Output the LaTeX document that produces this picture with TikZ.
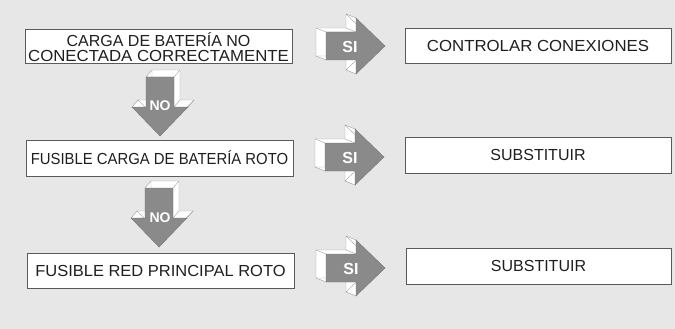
\documentclass[tikz,border=0pt]{standalone}
\usepackage{fontspec}
\setmainfont{Liberation Sans}
\definecolor{bgcol}{HTML}{E7E7E7}
\definecolor{arrowgray}{HTML}{8A8A8A}
\definecolor{edgegray}{HTML}{A0A0A0}
\definecolor{boxline}{HTML}{5A5A5A}
\tikzset{
  textbox/.style={draw=boxline, line width=0.7pt, fill=white, rectangle, inner sep=0pt,
    font=\fontsize{16}{15}\selectfont, text=black!88, align=center},
  sitext/.style={font=\fontsize{16}{16}\selectfont\bfseries, text=white, inner sep=0pt},
  notext/.style={font=\fontsize{14}{14}\selectfont\bfseries, text=white, inner sep=0pt},
  pics/blockarrow/.style n args={2}{code={
    \foreach \t in {0,...,20}{
      \fill[white, shift={({\t/20*(#1)},{\t/20*(#2)})}]
        (0,-14) -- (30,-14) -- (30,-28) -- (59,0) -- (30,28) -- (30,14) -- (0,14) -- cycle;
    }
    \draw[edgegray, line width=0.4pt, shift={(#1,#2)}]
        (0,-14) -- (30,-14) -- (30,-28) -- (59,0) -- (30,28) -- (30,14) -- (0,14) -- cycle;
    \foreach \p in {{0,-14},{30,-14},{30,-28},{59,0},{30,28},{30,14},{0,14}}{
      \draw[edgegray, line width=0.4pt] (\p) -- ++(#1,#2);
    }
    \fill[arrowgray]
        (0,-14) -- (30,-14) -- (30,-28) -- (59,0) -- (30,28) -- (30,14) -- (0,14) -- cycle;
    \draw[arrowgray!85!black, line width=0.4pt]
        (0,-14) -- (30,-14) -- (30,-28) -- (59,0) -- (30,28) -- (30,14) -- (0,14) -- cycle;
  }}
}
\begin{document}
\begin{tikzpicture}[x=1pt, y=-1pt]
\fill[bgcol] (0,0) rectangle (675,329);
\useasboundingbox (0,0) rectangle (675,329);

% left boxes
\node[textbox, minimum width=267pt, minimum height=34pt] (q1) at (158.5,46)
  {};
\node[font=\fontsize{16}{15}\selectfont, text=black!88, align=center, inner sep=0pt] (q1t) at (158.5,47.5)
  {CARGA DE BATERÍA NO\\\scalebox{1.05}[1]{CONECTADA CORRECTAMENTE}};
\node[textbox, minimum width=267pt, minimum height=36pt] (q2) at (159.5,158)
  {\scalebox{0.93}[1]{FUSIBLE CARGA DE BATERÍA ROTO}};
\node[textbox, minimum width=267pt, minimum height=35pt] (q3) at (160.5,270.5)
  {\scalebox{1.03}[1]{FUSIBLE RED PRINCIPAL ROTO}};

% right boxes
\node[textbox, minimum width=266pt, minimum height=35pt] (a1) at (538,45.5)
  {\scalebox{1.05}[1]{CONTROLAR CONEXIONES}};
\node[textbox, minimum width=266pt, minimum height=36pt] (a2) at (538,155)
  {SUBSTITUIR};
\node[textbox, minimum width=265pt, minimum height=36pt] (a3) at (538.5,266)
  {SUBSTITUIR};

% SI arrows
\pic (si1) at (326,46) {blockarrow={-10}{-4}};
\pic (si2) at (325,157) {blockarrow={-10}{-4}};
\pic (si3) at (326,268) {blockarrow={-10}{-4}};
\node[sitext] (si1t) at (350,46.5) {SI};
\node[sitext] (si2t) at (350,157.5) {SI};
\node[sitext] (si3t) at (351,268.5) {SI};

% NO arrows
\pic[rotate=-90] (no1) at (160,77) {blockarrow={-7}{-6}};
\pic[rotate=-90] (no2) at (159,188) {blockarrow={-7}{-6}};
\node[notext] (no1t) at (160,106) {NO};
\node[notext] (no2t) at (160,218) {NO};
\end{tikzpicture}
\end{document}
